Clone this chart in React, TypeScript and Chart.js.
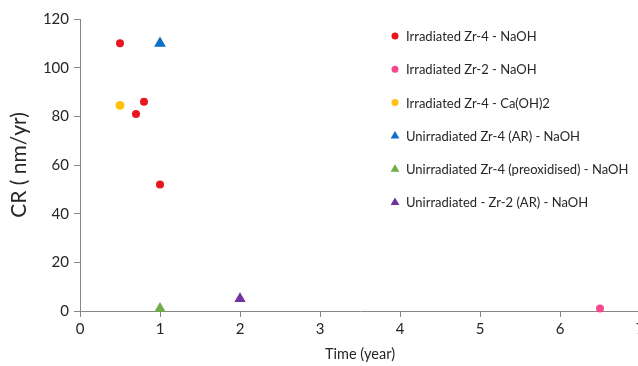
import React, { useEffect, useRef } from "react";
import { Chart, registerables } from "chart.js";

Chart.register(...registerables);

const seriesLabels = [
  "Irradiated Zr-4 - NaOH",
  "Irradiated Zr-2 - NaOH",
  "Irradiated Zr-4 - Ca(OH)2",
  "Unirradiated Zr-4 (AR) - NaOH",
  "Unirradiated Zr-4 (preoxidised) - NaOH",
  "Unirradiated - Zr-2 (AR) - NaOH",
];
const seriesColors = ["#e8161e", "#f6488e", "#ffc20e", "#0a6fc8", "#6fae45", "#7030a0"];
const seriesShapes = ["circle", "circle", "circle", "triangle", "triangle", "triangle"];
const seriesX = [[0.5, 0.7, 0.8, 1.0], [6.5], [0.5], [1], [1], [2]];
const seriesY = [[110, 81, 86, 52], [1], [84.5], [110], [1], [5]];
const seriesRadius = [4, 4, 4.5, 6.8, 6.5, 6.5];
const xTicks = [0, 1, 2, 3, 4, 5, 6, 7];
const yTicks = [0, 20, 40, 60, 80, 100, 120];
const xTitle = "Time (year)";
const yTitle = "CR ( nm/yr)";

const FONT = "Lato, 'Open Sans', sans-serif";
const TEXT = "#262626";
const AXIS = "#878787";

const legendPlugin = {
  id: "customLegend",
  afterDraw(chart: any) {
    const ctx = chart.ctx as CanvasRenderingContext2D;
    const mx = 395;
    const tx = 406;
    const y0 = 36;
    const step = 33.2;
    ctx.save();
    ctx.font = `13px ${FONT}`;
    ctx.textBaseline = "middle";
    ctx.textAlign = "left";
    chart.data.datasets.forEach((ds: any, i: number) => {
      const y = y0 + i * step;
      ctx.fillStyle = ds.backgroundColor;
      ctx.beginPath();
      if (ds.pointStyle === "triangle") {
        const r = 4.6;
        ctx.moveTo(mx, y - r);
        ctx.lineTo(mx + r * 0.95, y + r * 0.65);
        ctx.lineTo(mx - r * 0.95, y + r * 0.65);
        ctx.closePath();
      } else {
        ctx.arc(mx, y, 3.5, 0, Math.PI * 2);
      }
      ctx.fill();
      ctx.fillStyle = TEXT;
      ctx.fillText(ds.label, tx, y + 1);
    });
    ctx.restore();
  },
};

export default function App() {
  const ref = useRef<HTMLCanvasElement | null>(null);
  useEffect(() => {
    document.body.style.overflow = "hidden";
    const canvas = ref.current!;
    const datasets = seriesLabels.map((label, i) => ({
      label,
      data: seriesX[i].map((x, j) => ({ x, y: seriesY[i][j] })),
      backgroundColor: seriesColors[i],
      borderColor: seriesColors[i],
      borderWidth: 0,
      pointStyle: seriesShapes[i],
      pointRadius: seriesRadius[i],
      pointHoverRadius: seriesRadius[i],
      clip: false as any,
    }));
    const chart = new Chart(canvas, {
      type: "scatter",
      data: { datasets },
      plugins: [legendPlugin],
      options: {
        animation: false,
        responsive: false,
        devicePixelRatio: 1,
        layout: { padding: { left: 0, top: 19, right: 20, bottom: 0 } },
        plugins: { legend: { display: false }, tooltip: { enabled: false } },
        scales: {
          x: {
            type: "linear",
            min: 0,
            max: 7,
            afterBuildTicks: (s: any) => {
              s.ticks = xTicks.map((v) => ({ value: v }));
            },
            afterFit: (s: any) => {
              s.height = 55;
            },
            border: { display: true, color: AXIS, width: 1 },
            grid: { drawOnChartArea: false, drawTicks: true, tickLength: 6, color: AXIS },
            ticks: { color: TEXT, font: { family: FONT, size: 15 }, padding: 3, maxRotation: 0 },
            title: {
              display: true,
              text: xTitle,
              color: TEXT,
              font: { family: FONT, size: 14.5 },
              padding: { top: 4, bottom: 3 },
            },
          },
          y: {
            type: "linear",
            min: 0,
            max: 120,
            afterBuildTicks: (s: any) => {
              s.ticks = yTicks.map((v) => ({ value: v }));
            },
            afterFit: (s: any) => {
              s.width = 80;
            },
            border: { display: true, color: AXIS, width: 1 },
            grid: { drawOnChartArea: false, drawTicks: true, tickLength: 6, color: AXIS },
            ticks: { color: TEXT, font: { family: FONT, size: 15 }, padding: 5 },
            title: {
              display: true,
              text: yTitle,
              color: TEXT,
              font: { family: FONT, size: 21 },
              padding: { top: 7, bottom: 0 },
            },
          },
        },
      },
    });
    return () => chart.destroy();
  }, []);
  return (
    <div style={{ position: "fixed", left: 0, top: 0, width: 660, height: 366, overflow: "hidden" }}>
      <canvas ref={ref} width={660} height={366} style={{ display: "block" }} />
    </div>
  );
}
